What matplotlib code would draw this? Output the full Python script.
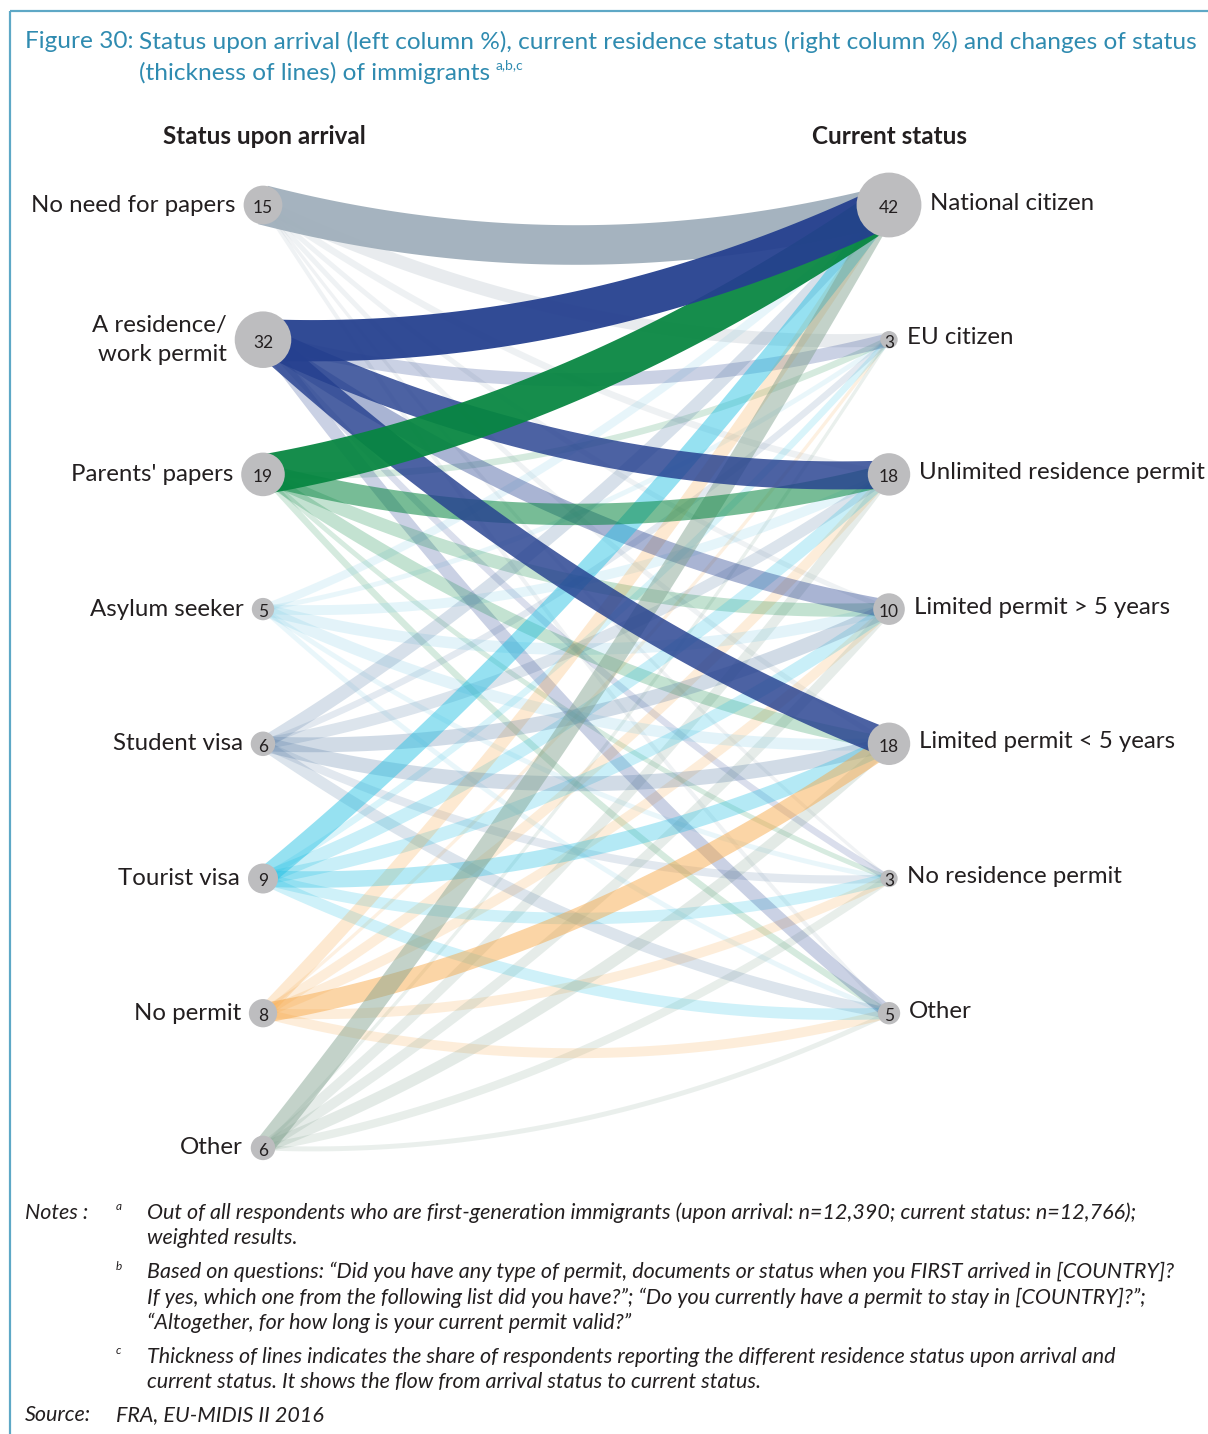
import numpy as np
import matplotlib as mpl
import matplotlib.pyplot as plt
from matplotlib.patches import Circle

mpl.rcParams['font.family'] = ['Lato', 'DejaVu Sans']

# left column: status upon arrival (%)
arrival_labels = ["No need for papers", "A residence/\nwork permit", "Parents' papers",
                  "Asylum seeker", "Student visa", "Tourist visa", "No permit", "Other"]
arrival_values = [15, 32, 19, 5, 6, 9, 8, 6]
arrival_colors = ["#a0afbb", "#25408f", "#078641", "#7ccbe6", "#5b80a8",
                  "#1ebfe3", "#f7a541", "#7fa08d"]

# right column: current status (%)
current_labels = ["National citizen", "EU citizen", "Unlimited residence permit",
                  "Limited permit > 5 years", "Limited permit < 5 years",
                  "No residence permit", "Other"]
current_values = [42, 3, 18, 10, 18, 3, 5]

# flows (share of respondents, read from line thickness)
# columns follow current_labels
flows = np.array([
    [12.0, 4.0, 2.0, 1.5, 1.5, 1.0, 1.2],   # No need for papers
    [12.5, 4.0, 8.5, 5.5, 8.5, 2.0, 4.0],   # Residence/work permit
    [12.0, 2.0, 6.5, 4.0, 4.0, 1.5, 2.0],   # Parents' papers
    [2.5, 1.5, 3.0, 3.5, 3.5, 1.5, 1.5],    # Asylum seeker
    [4.0, 2.0, 3.5, 4.5, 4.5, 2.5, 3.5],    # Student visa
    [6.0, 2.0, 4.0, 4.0, 5.0, 3.5, 3.5],    # Tourist visa
    [4.0, 1.0, 3.0, 3.0, 6.0, 3.0, 3.0],    # No permit
    [6.0, 1.0, 3.0, 3.0, 3.5, 2.5, 1.5],    # Other
])

W, H, DPI = 1208, 1434, 100
fig = plt.figure(figsize=(W / DPI, H / DPI), dpi=DPI)
ax = fig.add_axes([0, 0, 1, 1])
ax.set_xlim(0, W)
ax.set_ylim(H, 0)
ax.axis('off')

px = 72.0 / DPI  # points per pixel
x_left, x_right = 263, 889
y_top, y_step = 205, 134.7
left_y = [y_top + i * y_step for i in range(len(arrival_values))]
right_y = [y_top + i * y_step for i in range(len(current_values))]

# frame lines
frame_col = "#5ea8c6"
ax.plot([10, W], [11, 11], color=frame_col, lw=2.2 * px, solid_capstyle='butt')
ax.plot([10, 10], [11, H], color=frame_col, lw=2.2 * px, solid_capstyle='butt')

# title
title_col = "#2f8bb0"
tfs = 17.6
ax.text(25, 42, "Figure 30:", color=title_col, fontsize=tfs, va='center', ha='left')
ax.text(139, 42, "Status upon arrival (left column %), current residence status (right column %) and changes of status",
        color=title_col, fontsize=tfs, va='center', ha='left')
t2 = ax.text(139, 73, "(thickness of lines) of immigrants", color=title_col, fontsize=tfs,
             va='center', ha='left')
ax.annotate("a,b,c", xy=(1, 0.85), xycoords=t2, xytext=(4, 0), textcoords='offset points',
            color=title_col, fontsize=10, va='center', ha='left')

# column headers
ax.text(264, 137, "Status upon arrival", fontsize=17.5, fontweight='bold', color="#231f20",
        ha='center', va='center')
ax.text(889, 137, "Current status", fontsize=17.5, fontweight='bold', color="#231f20",
        ha='center', va='center')

# flow lines, quadratic curves sagging downward
t = np.linspace(0, 1, 80)
links = []
for i in range(flows.shape[0]):
    for j in range(flows.shape[1]):
        links.append((flows[i, j], i, j))
links.sort()
for v, i, j in links:
    x0, y0 = x_left, left_y[i]
    x1, y1 = x_right, right_y[j]
    cx, cy = (x0 + x1) / 2, (y0 + y1) / 2 + 80
    xs = (1 - t) ** 2 * x0 + 2 * (1 - t) * t * cx + t ** 2 * x1
    ys = (1 - t) ** 2 * y0 + 2 * (1 - t) * t * cy + t ** 2 * y1
    alpha = 0.15 + 0.8 / (1 + np.exp(-(v - 6.5) / 1.2))
    ax.plot(xs, ys, color=arrival_colors[i], alpha=alpha, lw=v * 3.3 * px,
            solid_capstyle='butt', solid_joinstyle='round')

# nodes
node_col = "#bdbdbf"
text_col = "#231f20"
lfs = 17.3
for lab, v, y in zip(arrival_labels, arrival_values, left_y):
    r = 5 * np.sqrt(v)
    ax.add_patch(Circle((x_left, y), r, facecolor=node_col, edgecolor='none', zorder=5))
    ax.text(x_left, y + 3, str(v), fontsize=12.5, color=text_col, ha='center', va='center', zorder=6)
    ax.text(x_left - r - 8, y, lab, fontsize=lfs, color=text_col, ha='right', va='center',
            linespacing=1.45, zorder=6)
for lab, v, y in zip(current_labels, current_values, right_y):
    r = 5 * np.sqrt(v)
    ax.add_patch(Circle((x_right, y), r, facecolor=node_col, edgecolor='none', zorder=5))
    ax.text(x_right, y + 3, str(v), fontsize=12.5, color=text_col, ha='center', va='center', zorder=6)
    ax.text(x_right + r + 9, y - 2, lab, fontsize=lfs, color=text_col, ha='left', va='center',
            zorder=6)

# notes
note_col = "#231f20"
nfs = 15.5
ax.text(25, 1213, "Notes :", fontsize=nfs, style='italic', color=note_col, va='center')
notes = [
    ("a", 1213, ["Out of all respondents who are first-generation immigrants (upon arrival: n=12,390; current status: n=12,766);",
                 "weighted results."]),
    ("b", 1272, ["Based on questions: \u201cDid you have any type of permit, documents or status when you FIRST arrived in [COUNTRY]?",
                 "If yes, which one from the following list did you have?\u201d; \u201cDo you currently have a permit to stay in [COUNTRY]?\u201d;",
                 "\u201cAltogether, for how long is your current permit valid?\u201d"]),
    ("c", 1357, ["Thickness of lines indicates the share of respondents reporting the different residence status upon arrival and",
                 "current status. It shows the flow from arrival status to current status."]),
]
for mark, y0, lines in notes:
    ax.text(116, y0 - 6, mark, fontsize=8.5, style='italic', color=note_col, va='center')
    for k, line in enumerate(lines):
        ax.text(147, y0 + k * 25.5, line, fontsize=nfs, style='italic', color=note_col, va='center')
ax.text(25, 1415, "Source:", fontsize=nfs, style='italic', color=note_col, va='center')
ax.text(116, 1415, "FRA, EU-MIDIS II 2016", fontsize=nfs, style='italic', color=note_col, va='center')

fig.savefig("out.png", dpi=DPI)
